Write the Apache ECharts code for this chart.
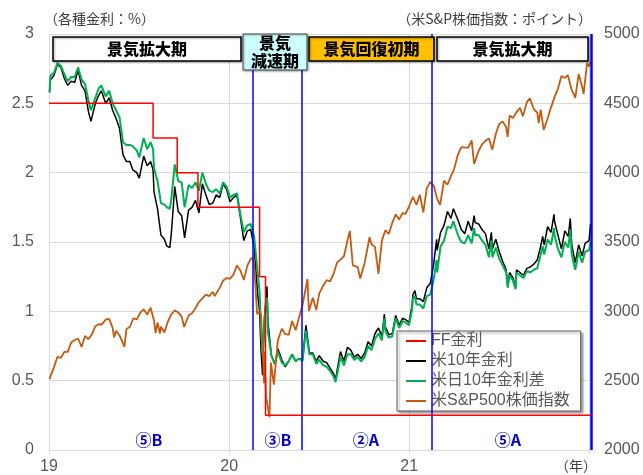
<!DOCTYPE html>
<html><head><meta charset="utf-8">
<script src="https://cdn.jsdelivr.net/npm/echarts@6/dist/echarts.min.js"></script>
<style>html,body{margin:0;padding:0;background:#fff}#c{width:643px;height:475px}</style>
</head><body><div id="c"></div>
<script>
// ---- data ----
const yieldDates = ['2019-01-02','2019-01-04','2019-01-11','2019-01-18','2019-01-25','2019-02-01','2019-02-08','2019-02-15','2019-02-22','2019-03-01','2019-03-08','2019-03-15','2019-03-22','2019-03-27','2019-04-05','2019-04-12','2019-04-17','2019-04-26','2019-05-03','2019-05-10','2019-05-17','2019-05-24','2019-05-31','2019-06-07','2019-06-14','2019-06-20','2019-06-28','2019-07-03','2019-07-12','2019-07-19','2019-07-26','2019-07-31','2019-08-02','2019-08-09','2019-08-16','2019-08-23','2019-08-28','2019-09-03','2019-09-06','2019-09-13','2019-09-20','2019-09-27','2019-10-03','2019-10-11','2019-10-18','2019-10-25','2019-11-01','2019-11-08','2019-11-15','2019-11-22','2019-11-29','2019-12-06','2019-12-13','2019-12-20','2019-12-27',
'2020-01-03','2020-01-10','2020-01-17','2020-01-24','2020-01-31','2020-02-07','2020-02-14','2020-02-21','2020-02-28','2020-03-03','2020-03-06','2020-03-09','2020-03-13','2020-03-18','2020-03-20','2020-03-27','2020-04-03','2020-04-09','2020-04-17','2020-04-24','2020-05-01','2020-05-08','2020-05-15','2020-05-22','2020-05-29','2020-06-05','2020-06-12','2020-06-19','2020-06-26','2020-07-02','2020-07-10','2020-07-17','2020-07-24','2020-07-31','2020-08-04','2020-08-07','2020-08-14','2020-08-21','2020-08-28','2020-09-04','2020-09-11','2020-09-18','2020-09-25','2020-10-02','2020-10-09','2020-10-16','2020-10-23','2020-10-30','2020-11-06','2020-11-11','2020-11-13','2020-11-20','2020-11-27','2020-12-04','2020-12-11','2020-12-18','2020-12-24','2020-12-31',
'2021-01-06','2021-01-08','2021-01-12','2021-01-15','2021-01-22','2021-01-29','2021-02-05','2021-02-12','2021-02-19','2021-02-25','2021-02-26','2021-03-05','2021-03-12','2021-03-19','2021-03-26','2021-03-31','2021-04-09','2021-04-16','2021-04-23','2021-04-30','2021-05-07','2021-05-12','2021-05-14','2021-05-21','2021-05-28','2021-06-04','2021-06-11','2021-06-16','2021-06-18','2021-06-25','2021-07-02','2021-07-09','2021-07-16','2021-07-19','2021-07-23','2021-07-30','2021-08-04','2021-08-06','2021-08-13','2021-08-20','2021-08-27','2021-09-03','2021-09-10','2021-09-17','2021-09-24','2021-09-28','2021-10-01','2021-10-08','2021-10-15','2021-10-21','2021-10-22','2021-10-29','2021-11-05','2021-11-12','2021-11-19','2021-11-23','2021-11-26','2021-12-03','2021-12-10','2021-12-17','2021-12-23','2021-12-31','2022-01-03'];
const us10 = [2.58,2.67,2.70,2.78,2.76,2.68,2.63,2.66,2.65,2.74,2.63,2.59,2.44,2.37,2.50,2.56,2.59,2.50,2.54,2.45,2.39,2.32,2.13,2.08,2.08,2.02,2.00,1.96,2.12,2.05,2.08,2.02,1.86,1.74,1.55,1.52,1.47,1.46,1.56,1.90,1.72,1.69,1.53,1.73,1.75,1.80,1.71,1.92,1.84,1.77,1.78,1.84,1.82,1.92,1.88,
1.79,1.82,1.84,1.68,1.51,1.58,1.59,1.46,1.13,1.00,0.71,0.54,0.96,1.18,0.92,0.68,0.62,0.73,0.65,0.60,0.64,0.69,0.64,0.66,0.65,0.90,0.70,0.70,0.64,0.68,0.64,0.63,0.59,0.55,0.51,0.57,0.71,0.64,0.74,0.72,0.67,0.69,0.66,0.70,0.78,0.75,0.84,0.88,0.82,0.98,0.89,0.83,0.84,0.97,0.90,0.95,0.94,0.92,
1.04,1.12,1.15,1.09,1.09,1.07,1.17,1.20,1.34,1.52,1.44,1.57,1.62,1.72,1.67,1.74,1.66,1.59,1.56,1.65,1.58,1.69,1.64,1.63,1.59,1.56,1.45,1.57,1.45,1.52,1.43,1.36,1.30,1.19,1.28,1.24,1.17,1.30,1.28,1.26,1.31,1.32,1.34,1.37,1.47,1.54,1.48,1.61,1.57,1.70,1.65,1.55,1.45,1.58,1.54,1.67,1.48,1.35,1.48,1.40,1.49,1.51,1.63];
const usJpSpread = [2.58,2.70,2.72,2.79,2.77,2.71,2.66,2.69,2.69,2.76,2.67,2.64,2.52,2.45,2.54,2.61,2.63,2.55,2.59,2.50,2.45,2.40,2.22,2.20,2.20,2.19,2.16,2.11,2.25,2.17,2.22,2.17,2.03,1.94,1.78,1.77,1.75,1.74,1.81,2.06,1.94,1.93,1.75,1.91,1.89,1.93,1.87,2.00,1.92,1.87,1.86,1.88,1.85,1.93,1.90,
1.82,1.84,1.85,1.70,1.57,1.62,1.63,1.54,1.28,1.14,0.87,0.68,0.95,1.10,0.85,0.68,0.62,0.71,0.63,0.61,0.64,0.69,0.64,0.66,0.64,0.86,0.69,0.69,0.62,0.65,0.61,0.60,0.57,0.53,0.49,0.54,0.67,0.61,0.69,0.69,0.65,0.67,0.64,0.67,0.75,0.72,0.80,0.84,0.79,0.95,0.86,0.81,0.82,0.95,0.88,0.93,0.92,0.90,
1.01,1.09,1.11,1.05,1.05,1.02,1.11,1.12,1.23,1.37,1.28,1.47,1.51,1.61,1.60,1.65,1.55,1.50,1.49,1.55,1.49,1.60,1.55,1.55,1.51,1.48,1.39,1.51,1.39,1.46,1.38,1.33,1.28,1.17,1.26,1.22,1.16,1.28,1.26,1.24,1.29,1.28,1.30,1.31,1.41,1.47,1.41,1.52,1.48,1.60,1.55,1.45,1.39,1.50,1.46,1.59,1.41,1.30,1.43,1.35,1.43,1.44,1.50];
const spxDates = ['2019-01-02','2019-01-04','2019-01-11','2019-01-18','2019-01-25','2019-02-01','2019-02-08','2019-02-15','2019-02-22','2019-03-01','2019-03-08','2019-03-15','2019-03-22','2019-03-29','2019-04-05','2019-04-12','2019-04-18','2019-04-26','2019-05-03','2019-05-10','2019-05-13','2019-05-17','2019-05-24','2019-06-03','2019-06-07','2019-06-14','2019-06-21','2019-06-28','2019-07-05','2019-07-12','2019-07-19','2019-07-26','2019-08-02','2019-08-05','2019-08-09','2019-08-14','2019-08-16','2019-08-23','2019-08-30','2019-09-06','2019-09-13','2019-09-20','2019-09-27','2019-10-02','2019-10-11','2019-10-18','2019-10-25','2019-11-01','2019-11-08','2019-11-15','2019-11-22','2019-11-29','2019-12-03','2019-12-13','2019-12-20','2019-12-27',
'2020-01-03','2020-01-10','2020-01-17','2020-01-24','2020-01-31','2020-02-07','2020-02-14','2020-02-19','2020-02-21','2020-02-27','2020-03-03','2020-03-06','2020-03-09','2020-03-12','2020-03-13','2020-03-16','2020-03-20','2020-03-23','2020-03-26','2020-04-01','2020-04-09','2020-04-17','2020-04-24','2020-05-01','2020-05-08','2020-05-15','2020-05-22','2020-05-29','2020-06-08','2020-06-11','2020-06-19','2020-06-26','2020-07-02','2020-07-10','2020-07-17','2020-07-24','2020-07-31','2020-08-07','2020-08-14','2020-08-21','2020-08-28','2020-09-02','2020-09-08','2020-09-11','2020-09-18','2020-09-23','2020-10-02','2020-10-12','2020-10-16','2020-10-23','2020-10-30','2020-11-06','2020-11-13','2020-11-20','2020-11-27','2020-12-04','2020-12-11','2020-12-18','2020-12-24','2020-12-31',
'2021-01-08','2021-01-15','2021-01-22','2021-01-29','2021-02-05','2021-02-12','2021-02-19','2021-02-26','2021-03-04','2021-03-12','2021-03-19','2021-03-26','2021-04-01','2021-04-09','2021-04-16','2021-04-23','2021-04-30','2021-05-07','2021-05-12','2021-05-21','2021-05-28','2021-06-04','2021-06-11','2021-06-18','2021-06-25','2021-07-02','2021-07-09','2021-07-16','2021-07-19','2021-07-23','2021-07-30','2021-08-06','2021-08-13','2021-08-19','2021-08-27','2021-09-02','2021-09-10','2021-09-17','2021-09-20','2021-09-24','2021-09-30','2021-10-04','2021-10-08','2021-10-15','2021-10-22','2021-10-29','2021-11-05','2021-11-12','2021-11-18','2021-11-26','2021-11-30','2021-12-03','2021-12-10','2021-12-17','2021-12-20','2021-12-27','2021-12-31','2022-01-03'];
const spx = [2510,2532,2596,2671,2665,2707,2708,2776,2793,2804,2743,2822,2800,2834,2893,2907,2905,2940,2946,2881,2812,2860,2826,2744,2873,2887,2950,2942,2990,3014,2977,3026,2932,2844,2919,2840,2889,2847,2926,2979,3007,2992,2962,2887,2970,2986,3023,3067,3093,3120,3110,3141,3110,3169,3221,3240,
3235,3265,3330,3295,3226,3328,3380,3386,3338,2979,3003,2972,2747,2481,2711,2386,2305,2237,2630,2471,2790,2875,2837,2831,2930,2864,2955,3044,3232,3002,3098,3009,3130,3185,3225,3216,3271,3351,3373,3397,3508,3580,3332,3341,3319,3237,3348,3534,3484,3465,3270,3510,3585,3558,3638,3699,3663,3709,3703,3756,
3825,3768,3841,3714,3887,3934,3907,3811,3768,3943,3913,3975,4020,4129,4185,4180,4181,4233,4063,4156,4204,4230,4247,4166,4281,4352,4370,4327,4258,4412,4395,4437,4468,4406,4509,4537,4459,4433,4358,4455,4308,4300,4391,4471,4545,4605,4697,4683,4704,4595,4567,4538,4712,4620,4568,4791,4766,4797];
const ffDates = ['2019-01-01','2019-07-31','2019-09-18','2019-10-30','2020-03-03','2020-03-15','2022-01-04'];
const ffRate = [2.5,2.25,2.0,1.75,1.25,0.25,0.25];
const periodLineDates = ['2020-02-18','2020-05-27','2021-02-16','2022-01-04'];
const xTickLabels = ['19','20','21'];
const seriesNames = ['FF金利','米10年金利','米日10年金利差','米S&P500株価指数'];
const phaseLabels = ['⑤B','③B','②A','⑤A'];

// ---- chart ----
const FONT = "'Liberation Sans','Noto Sans CJK JP',sans-serif";
const JP = "'Noto Sans CJK JP','Liberation Sans',sans-serif";
const t = d => Date.parse(d);
const pairs = (ds, vs) => ds.map((d, i) => [t(d), vs[i]]);
const YEAR = 365.25 * 86400000;

const chart = echarts.init(document.getElementById('c'), null, {renderer: 'canvas'});

function box(x, y, w, h, fill, stroke, lw) {
  return {type: 'rect', z: 100, shape: {x, y, width: w, height: h},
    style: {fill, stroke, lineWidth: lw, shadowBlur: 2, shadowOffsetX: 1, shadowOffsetY: 1, shadowColor: 'rgba(0,0,0,0.35)'}};
}
function txt(x, y, s, font, fill, align) {
  return {type: 'text', z: 101, x, y, style: {text: s, font, fill, align: align || 'center', verticalAlign: 'middle', textAlign: align || 'center', textVerticalAlign: 'middle'}};
}

const option = {
  animation: false,
  textStyle: {fontFamily: FONT},
  grid: {left: 49, right: 52, top: 34, bottom: 24, containLabel: false},
  xAxis: {
    type: 'value', min: Date.UTC(2019, 0, 1), max: Date.UTC(2022, 0, 4), interval: YEAR,
    axisLine: {show: true, lineStyle: {color: '#d9d9d9', width: 1}},
    axisTick: {show: true, length: 4, lineStyle: {color: '#d9d9d9'}},
    splitLine: {show: true, lineStyle: {color: '#d9d9d9', width: 1}},
    axisLabel: {showMaxLabel: false, margin: 9, fontSize: 16, color: '#595959', fontFamily: FONT,
      formatter: (v, i) => xTickLabels[i] || ''}
  },
  yAxis: [
    {type: 'value', min: 0, max: 3, interval: 0.5,
      axisLine: {show: false}, axisTick: {show: false},
      splitLine: {lineStyle: {color: '#d9d9d9', width: 1}},
      axisLabel: {fontSize: 16, color: '#595959', margin: 15, fontFamily: FONT, formatter: v => String(v)}},
    {type: 'value', min: 2000, max: 5000, interval: 500,
      axisLine: {show: false}, axisTick: {show: false}, splitLine: {show: false},
      axisLabel: {fontSize: 16, color: '#595959', margin: 13, fontFamily: FONT, formatter: v => String(v)}}
  ],
  legend: {
    data: seriesNames, orient: 'vertical', left: 397, top: 331,
    icon: 'rect', itemWidth: 20, itemHeight: 2, itemGap: 4,
    padding: [2, 11, 2, 9],
    backgroundColor: '#ffffff', borderColor: '#595959', borderWidth: 1,
    shadowColor: 'rgba(0,0,0,0.35)', shadowBlur: 2, shadowOffsetX: 2, shadowOffsetY: 2,
    textStyle: {fontSize: 16, color: '#595959', lineHeight: 16, fontFamily: FONT},
    selectedMode: false
  },
  series: [
    {name: seriesNames[1], type: 'line', z: 2, data: pairs(yieldDates, us10), showSymbol: false, symbol: 'none',
      lineStyle: {color: '#000000', width: 1.5}, itemStyle: {color: '#000000'}},
    {name: seriesNames[2], type: 'line', z: 3, data: pairs(yieldDates, usJpSpread), showSymbol: false, symbol: 'none',
      lineStyle: {color: '#00b050', width: 2}, itemStyle: {color: '#00b050'}},
    {name: seriesNames[3], type: 'line', z: 4, yAxisIndex: 1, data: pairs(spxDates, spx), showSymbol: false, symbol: 'none',
      lineStyle: {color: '#c55a11', width: 1.8}, itemStyle: {color: '#c55a11'}},
    {name: seriesNames[0], type: 'line', z: 5, step: 'end', data: pairs(ffDates, ffRate), showSymbol: false, symbol: 'none',
      lineStyle: {color: '#ff0000', width: 1.5}, itemStyle: {color: '#ff0000'},
      markLine: {silent: true, symbol: ['none', 'none'], label: {show: false},
        lineStyle: {color: '#0000ff', width: 1.5, type: 'solid'},
        data: periodLineDates.map((d, i) => ({xAxis: t(d), lineStyle: {color: '#0000ff', width: i === periodLineDates.length - 1 ? 2.5 : 1.5, type: 'solid'}}))}}
  ],
  graphic: [
    txt(44, 19, '（各種金利：%）', '14px ' + JP, '#404040', 'left'),
    txt(592, 19, '（米S&P株価指数：ポイント）', '14px ' + JP, '#404040', 'right'),
    txt(576, 466, '（年）', '14px ' + JP, '#404040'),
    box(53, 37, 188, 24, '#ffffff', '#000000', 1.5),
    txt(147, 49, '景気拡大期', '900 16px ' + JP, '#000000'),
    box(243, 34, 64, 36, '#ccffff', '#404040', 1),
    txt(275, 43, '景気', '900 16px ' + JP, '#000000'),
    txt(275, 61, '減速期', '900 16px ' + JP, '#000000'),
    box(309, 37, 125, 24, '#ffc000', '#000000', 1.5),
    txt(371.5, 49, '景気回復初期', '900 16px ' + JP, '#000000'),
    box(437, 37, 151, 24, '#ffffff', '#000000', 1.5),
    txt(512.5, 49, '景気拡大期', '900 16px ' + JP, '#000000'),
    txt(149, 440, phaseLabels[0], 'bold 16px ' + JP, '#0000cc'),
    txt(278, 440, phaseLabels[1], 'bold 16px ' + JP, '#0000cc'),
    txt(366, 440, phaseLabels[2], 'bold 16px ' + JP, '#0000cc'),
    txt(508, 440, phaseLabels[3], 'bold 16px ' + JP, '#0000cc')
  ]
};
chart.setOption(option);
</script>
</body></html>
